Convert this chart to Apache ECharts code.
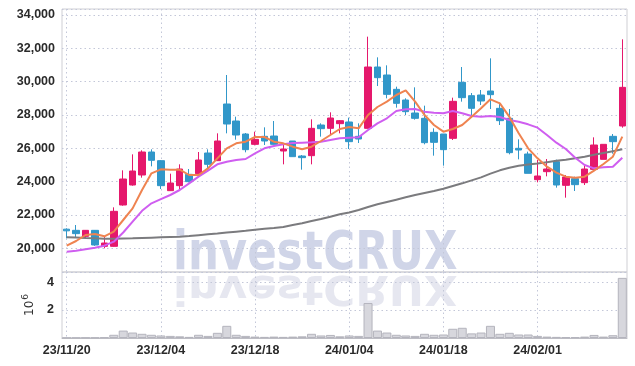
<!DOCTYPE html>
<html>
<head>
<meta charset="utf-8">
<script src="https://cdn.jsdelivr.net/npm/echarts@6/dist/echarts.min.js"></script>
<style>
html,body{margin:0;padding:0;background:#fff;}
#chart{width:635px;height:366px;}
</style>
</head>
<body>
<div id="chart"></div>
<script>
const dates = [
 '2023-11-20','2023-11-21','2023-11-22','2023-11-23','2023-11-24',
 '2023-11-27','2023-11-28','2023-11-29','2023-11-30','2023-12-01',
 '2023-12-04','2023-12-05','2023-12-06','2023-12-07','2023-12-08',
 '2023-12-11','2023-12-12','2023-12-13','2023-12-14','2023-12-15',
 '2023-12-18','2023-12-19','2023-12-20','2023-12-21','2023-12-22',
 '2023-12-26','2023-12-27','2023-12-28','2024-01-02','2024-01-03',
 '2024-01-04','2024-01-05','2024-01-08','2024-01-09','2024-01-10',
 '2024-01-11','2024-01-12','2024-01-15','2024-01-16','2024-01-17',
 '2024-01-18','2024-01-19','2024-01-22','2024-01-23','2024-01-24',
 '2024-01-25','2024-01-26','2024-01-29','2024-01-30','2024-01-31',
 '2024-02-01','2024-02-02','2024-02-05','2024-02-06','2024-02-07',
 '2024-02-08','2024-02-13','2024-02-14','2024-02-15','2024-02-16'
];
const opens = [
 21150,21080,20720,21080,20120, 20120,22600,23800,24400,25780,
 25260,23460,23760,24440,24480, 25720,25260,28660,27640,26860,
 26240,26720,26740,25840,26440, 25540,25560,27400,27200,27480,
 27580,26720,27200,30880,30400, 29540,28900,28120,27800,26960,
 26860,26600,29960,29160,29200, 29440,28400,27800,26000,25660,
 24120,24600,25200,23780,24180, 23940,24740,25340,26720,27340
];
const closes = [
 21050,20880,21080,20200,20320, 22220,24160,24640,25780,25280,
 23760,23920,24760,24000,25300, 25040,26440,27460,26800,25920,
 26540,26440,26240,25960,25500, 25440,27200,27180,27820,27660,
 26400,26560,30880,30240,29240, 28700,28200,27800,26340,26360,
 25920,28820,29040,28400,28840, 29220,27660,25740,25900,24500,
 24340,24760,23800,24280,23820, 24760,26200,26240,26400,29660
];
const lows = [
 20600,20660,20560,20150,20000, 20100,22560,23760,24240,24920,
 23560,23440,23500,23960,24280, 24760,25260,26900,26520,25760,
 26180,26200,26240,25040,25500, 24720,25040,26700,26860,26900,
 25960,26320,27200,29740,29000, 28440,28000,27720,26240,25560,
 24960,26500,28800,27840,28600, 28360,27400,25640,25340,24500,
 23960,24320,23640,23040,23440, 23800,24740,25340,25680,27240
];
const highs = [
 21200,21400,21100,21100,20680, 22460,24680,25640,25880,25940,
 25300,24480,25040,24760,25780, 25940,26900,30400,27900,26920,
 27000,27260,27640,26200,26440, 25600,27740,27500,28160,27700,
 27840,27500,32700,31460,30980, 29700,29000,29660,28560,27200,
 26860,29040,30880,29320,29500, 31400,28740,28360,26540,25800,
 25300,25360,25320,24400,24300, 24960,26660,26240,26860,32540
];
// volume in millions of shares
const volumes = [
 0.02,0.02,0.03,0.03,0.05, 0.23,0.53,0.39,0.30,0.23,
 0.18,0.15,0.12,0.08,0.23, 0.15,0.37,0.87,0.23,0.15,
 0.10,0.08,0.10,0.08,0.10, 0.12,0.30,0.18,0.22,0.12,
 0.18,0.15,2.50,0.53,0.39, 0.23,0.18,0.15,0.30,0.23,
 0.25,0.66,0.73,0.33,0.39, 0.87,0.30,0.37,0.25,0.25,
 0.15,0.10,0.08,0.06,0.06, 0.10,0.22,0.10,0.20,4.30
];
const ma5 = [
 20160,20440,20800,20860,20720, 21000,21700,22400,23500,24500,
 24740,24720,24720,24400,24400, 24800,25400,26000,26300,26400,
 26680,26680,26400,26300,26100, 25940,26100,26440,26800,27160,
 27280,27200,28000,28480,28800, 29200,29480,28800,28000,27400,
 27000,27160,27400,27900,28400, 28940,28700,27900,26900,26000,
 25400,24900,24540,24300,24240, 24300,24660,25060,25500,26700
];
const ma20 = [
 19800,19860,19940,20040,20160, 20400,20950,21600,22250,22700,
 22950,23200,23500,23900,24300, 24660,25040,25200,25300,25360,
 25700,26000,26140,26240,26320, 26340,26360,26400,26500,26600,
 26640,26660,27100,27500,27800, 28240,28340,28360,28200,28140,
 28100,28240,28100,27940,27900, 27940,27880,27700,27600,27440,
 27240,26800,26340,25960,25440, 25000,24800,24860,24900,25440
];
const ma60 = [
 20660,20650,20620,20600,20580, 20580,20590,20600,20620,20640,
 20660,20680,20700,20740,20790, 20840,20890,20950,21000,21050,
 21120,21170,21220,21280,21400, 21500,21640,21760,21900,22040,
 22150,22300,22480,22640,22780, 22920,23060,23200,23320,23440,
 23580,23740,23900,24080,24260, 24480,24680,24840,24950,25030,
 25090,25170,25250,25320,25400, 25500,25610,25720,25830,25940
];
const priceTicks = [20000,22000,24000,26000,28000,30000,32000,34000];
const volumeTicks = [2,4];

const ohlc = opens.map((o,i)=>[o, closes[i], lows[i], highs[i]]);
const dateLabels = dates.map(d => d.slice(2).replace(/-/g,'/'));

const FONT = '"Liberation Sans", Arial, sans-serif';
const gridLine = {show:true, lineStyle:{color:'#c3c7d8', type:[1.5,3], width:1}};
const WM_FONT = 'bold 53px "DejaVu Sans", sans-serif';

const chart = echarts.init(document.getElementById('chart'));
chart.setOption({
  animation:false,
  backgroundColor:'#fff',
  graphic:[
    {type:'text', x:173, y:282, scaleX:0.82, silent:true, z:-10,
     style:{text:'investCRUX', fill:'#d0d5e8', font:WM_FONT, textVerticalAlign:'bottom', textAlign:'left'}},
    {type:'text', x:173, y:266, scaleX:0.82, scaleY:-0.76, silent:true, z:-10,
     style:{text:'investCRUX', fill:'#e6e7f0', font:WM_FONT, textVerticalAlign:'bottom', textAlign:'left'}}
  ],
  grid:[
    {left:62, top:9, width:565, height:263, show:true, borderColor:'#cfcfd4', borderWidth:1, backgroundColor:'transparent'},
    {left:62, top:272, width:565, height:66, show:true, borderColor:'#cfcfd4', borderWidth:1, backgroundColor:'transparent'}
  ],
  xAxis:[
    {type:'category', gridIndex:0, data:dateLabels, boundaryGap:true,
     axisLine:{show:false}, axisTick:{show:false}, axisLabel:{show:false},
     splitLine:Object.assign({interval:9, alignWithLabel:true}, gridLine)},
    {type:'category', gridIndex:1, data:dateLabels, boundaryGap:true,
     axisLine:{show:true, lineStyle:{color:'#bdbdc4'}}, axisTick:{show:false},
     axisLabel:{show:true, interval:9, color:'#2a2a2a', fontFamily:FONT, fontWeight:'bold', fontSize:12.5, margin:6},
     splitLine:Object.assign({interval:9, alignWithLabel:true}, gridLine)}
  ],
  yAxis:[
    {type:'value', gridIndex:0, min:18580, max:34360, splitNumber:8, scale:true,
     axisLine:{show:false}, axisTick:{show:false},
     axisLabel:{color:'#2a2a2a', fontFamily:FONT, fontWeight:'bold', fontSize:12.5, margin:7, showMinLabel:false, showMaxLabel:false,
       formatter:v => priceTicks.includes(v) ? v.toLocaleString('en-US') : ''},
     splitLine:gridLine},
    {type:'value', gridIndex:1, min:0, max:4.72, interval:2,
     axisLine:{show:false}, axisTick:{show:false},
     axisLabel:{color:'#2a2a2a', fontFamily:FONT, fontWeight:'bold', fontSize:12.5, margin:8, showMinLabel:false, showMaxLabel:false,
       formatter:v => volumeTicks.includes(v) ? String(v) : ''},
     splitLine:gridLine,
     name:'{b|10}{s|6}', nameLocation:'middle', nameRotate:90, nameGap:17,
     nameTextStyle:{rich:{b:{fontFamily:'"DejaVu Sans",sans-serif', fontSize:12, color:'#333'}, s:{fontFamily:'"DejaVu Sans",sans-serif', fontSize:9, color:'#333', verticalAlign:'top', padding:[0,0,8,1]}}}}
  ],
  series:[
    {type:'bar', xAxisIndex:1, yAxisIndex:1, data:volumes, barCategoryGap:'4%',
     itemStyle:{color:'#d7d7dd', borderColor:'#b4b4bd', borderWidth:1}},
    {type:'candlestick', xAxisIndex:0, yAxisIndex:0, data:ohlc, barWidth:7,
     itemStyle:{color:'#e5186c', color0:'#3197c9', borderColor:'#e5186c', borderColor0:'#3197c9', borderWidth:1}},
    {type:'line', xAxisIndex:0, yAxisIndex:0, data:ma60, symbol:'none', lineStyle:{color:'#7b7b7e', width:2}},
    {type:'line', xAxisIndex:0, yAxisIndex:0, data:ma20, symbol:'none', lineStyle:{color:'#cf5ef0', width:2}},
    {type:'line', xAxisIndex:0, yAxisIndex:0, data:ma5, symbol:'none', lineStyle:{color:'#ef8350', width:2}}
  ]
});
</script>
</body>
</html>
